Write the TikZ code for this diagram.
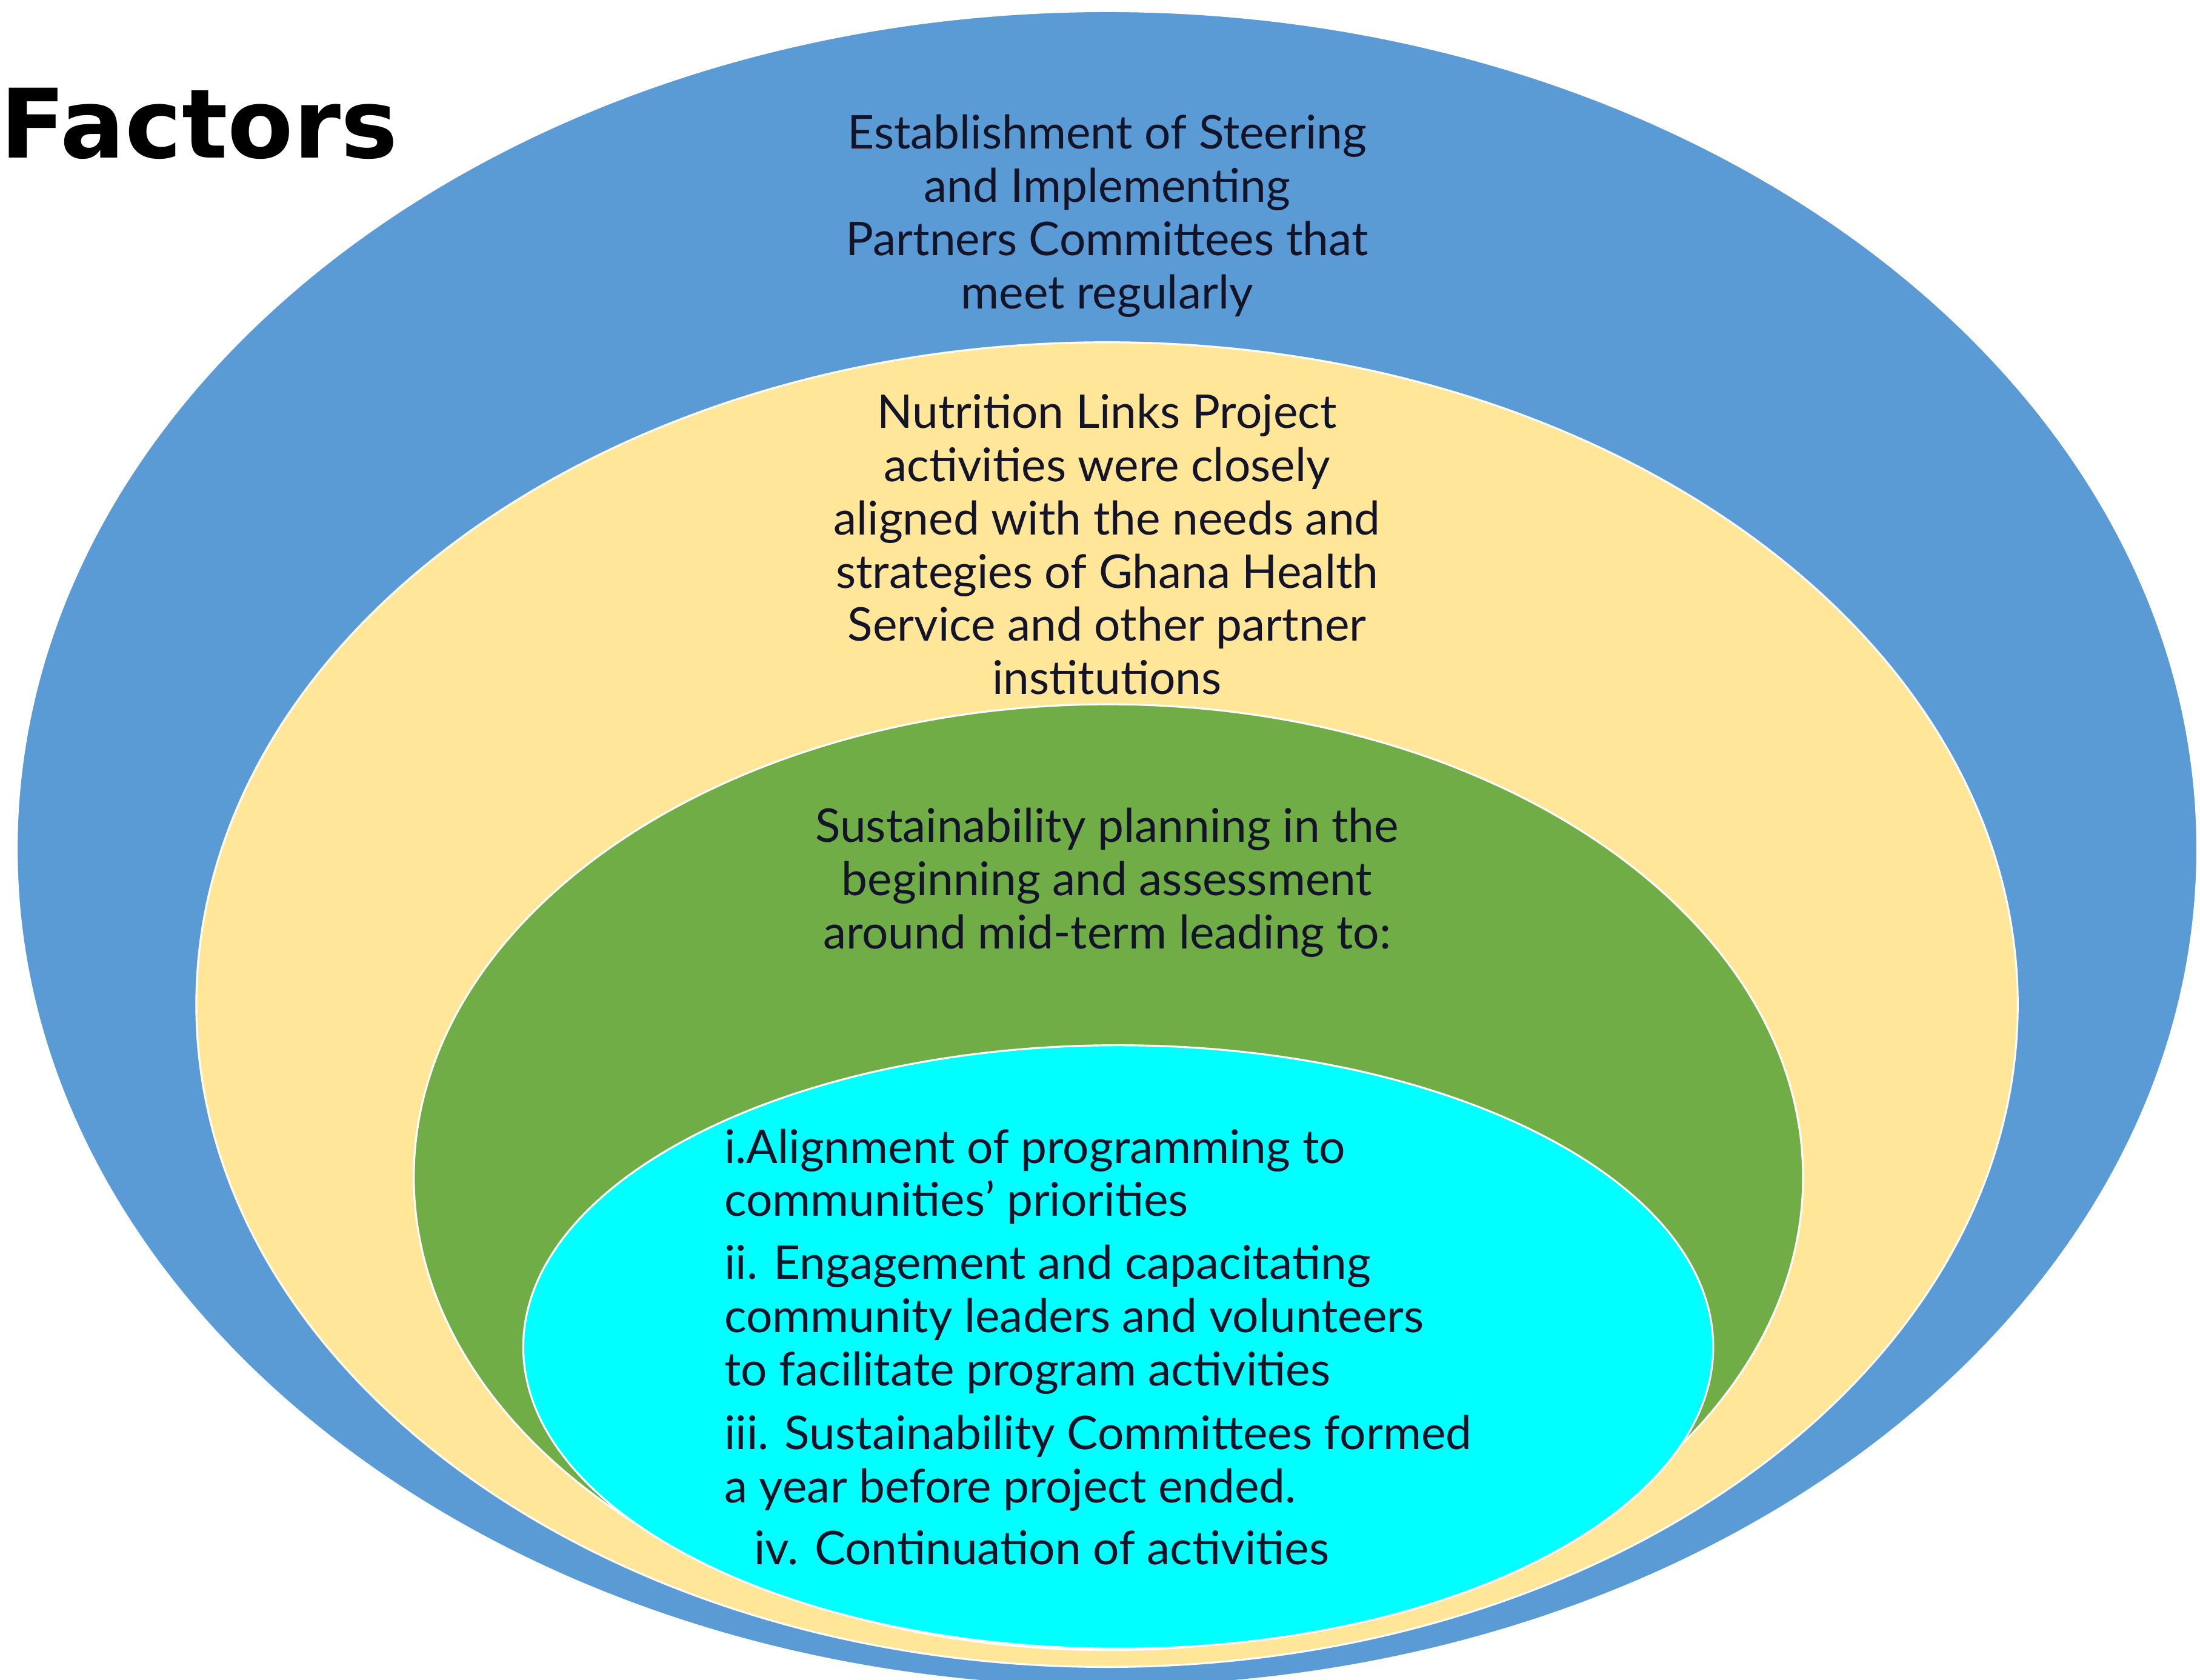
\documentclass[tikz,border=0pt]{standalone}
\usepackage{fontspec}
\setmainfont{Lato}
\newfontfamily\titlefont{DejaVu Sans}
\usetikzlibrary{shapes.geometric}
\definecolor{ringblue}{HTML}{5B9BD5}
\definecolor{ringyellow}{HTML}{FFE699}
\definecolor{ringgreen}{HTML}{70AD47}
\definecolor{ringcyan}{HTML}{00FFFF}
\definecolor{inktext}{HTML}{141428}
\tikzset{
  ring/.style={ellipse, draw=white, line width=0.9pt, inner sep=0pt},
  bodytext/.style={text=inktext, font=\fontsize{21.8}{25}\selectfont, inner sep=0pt},
}
\begin{document}
\begin{tikzpicture}[x=0.023150cm, y=-0.023150cm]
\useasboundingbox (0,0) rectangle (1568,1197);
\fill[white] (0,0) rectangle (1568,1197);
\node[ring, fill=ringblue, minimum width=35.975cm, minimum height=27.641cm] (blue) at (789,605) {};
\node[ring, fill=ringyellow, minimum width=30.049cm, minimum height=21.854cm] (yellow) at (789,716) {};
\node[ring, fill=ringgreen, minimum width=22.919cm, minimum height=15.603cm] (green) at (790,839) {};
\node[ring, fill=ringcyan, minimum width=19.631cm, minimum height=9.955cm] (cyan) at (797,960) {};
\node[anchor=west, inner sep=0pt, font=\titlefont\bfseries\fontsize{45}{50}\selectfont] (title) at (0,88) {Factors};
\node[bodytext, align=center] (bluetext) at (789,154) {Establishment of Steering\\and Implementing\\Partners Committees that\\meet regularly};
\node[bodytext, align=center] (yellowtext) at (789,388) {Nutrition Links Project\\activities were closely\\aligned with the needs and\\strategies of Ghana Health\\Service and other partner\\institutions};
\node[bodytext, align=center] (greentext) at (789,629) {Sustainability planning in the\\beginning and assessment\\around mid-term leading to:};
\node[bodytext, align=left, anchor=west] (cyantext) at (516,960) {i.Alignment of programming to\\communities’ priorities\\[4.5pt]ii. Engagement and capacitating\\community leaders and volunteers\\to facilitate program activities\\[5pt]iii. Sustainability Committees formed\\a year before project ended.\\[4pt]\hspace*{14pt}iv. Continuation of activities};
\end{tikzpicture}
\end{document}
